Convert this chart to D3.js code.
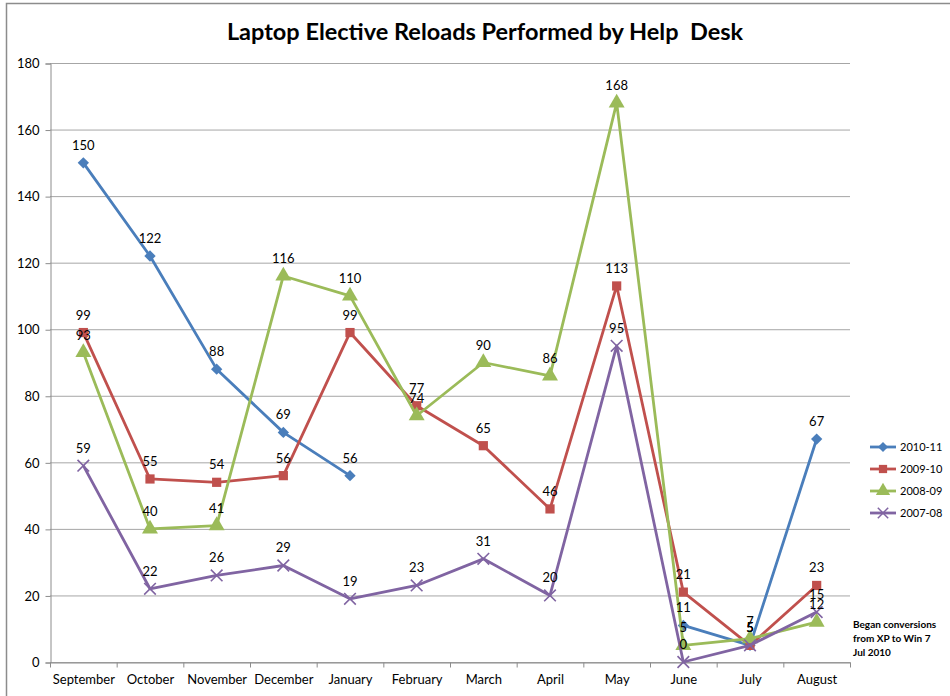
<!DOCTYPE html>
<html>
<head>
<meta charset="utf-8">
<script src="https://cdn.jsdelivr.net/npm/d3@7"></script>
<style>
  body { margin: 0; background: #fff; }
  svg { display: block; font-family: Lato, "Open Sans", sans-serif; }
</style>
</head>
<body>
<svg id="chart" width="950" height="696"></svg>
<script>
const months = ["September", "October", "November", "December", "January", "February",
  "March", "April", "May", "June", "July", "August"];
const seriesNames = ["2010-11", "2009-10", "2008-09", "2007-08"];
const colors = ["#4a7ebb", "#c0504d", "#9bbb59", "#8064a2"];
const symbols = [d3.symbolSquare, d3.symbolSquare, d3.symbolTriangle, d3.symbolTimes];
const values2010 = [150, 122, 88, 69, 56, null, null, null, null, 11, 5, 67];
const values2009 = [99, 55, 54, 56, 99, 77, 65, 46, 113, 21, 5, 23];
const values2008 = [93, 40, 41, 116, 110, 74, 90, 86, 168, 5, 7, 12];
const values2007 = [59, 22, 26, 29, 19, 23, 31, 20, 95, 0, 5, 15];
const yTicks = [0, 20, 40, 60, 80, 100, 120, 140, 160, 180];
const note = ["Began conversions", "from XP to Win 7", "Jul 2010"];

const allValues = [values2010, values2009, values2008, values2007];

const svg = d3.select("#chart");

// Outer chart border
svg.append("rect")
    .attr("x", 6.5).attr("y", 3.5)
    .attr("width", 1000).attr("height", 800)
    .attr("fill", "none")
    .attr("stroke", "#8c8c8c")
    .attr("stroke-width", 1.5);

const plotLeft = 50, plotRight = 850, plotTop = 63, plotBottom = 662;

const x = d3.scaleBand().domain(months).range([plotLeft, plotRight]);
const y = d3.scaleLinear().domain([0, 180]).range([plotBottom, plotTop]);

// Gridlines
svg.append("g")
    .selectAll("line")
    .data(yTicks)
    .join("line")
    .attr("x1", plotLeft).attr("x2", plotRight)
    .attr("y1", d => y(d) + 0.5).attr("y2", d => y(d) + 0.5)
    .attr("stroke", "#a6a6a6")
    .attr("stroke-width", 1);

// Y axis
const yAxis = svg.append("g")
    .attr("transform", `translate(${plotLeft + 0.5},0.5)`)
    .call(d3.axisLeft(y).tickValues(yTicks).tickSize(5).tickPadding(6));
yAxis.select(".domain").attr("stroke", "#8c8c8c");
yAxis.selectAll(".tick line").attr("stroke", "#8c8c8c");
yAxis.selectAll("text").attr("font-size", 13).attr("fill", "#000")
    .attr("font-family", "Lato, sans-serif");

// X axis
const xAxis = svg.append("g")
    .attr("transform", `translate(0.5,${plotBottom + 0.5})`)
    .call(d3.axisBottom(x).tickSize(0).tickPadding(12));
xAxis.select(".domain").attr("stroke", "#8c8c8c");
xAxis.selectAll("text").attr("font-size", 13).attr("fill", "#000")
    .attr("font-family", "Lato, sans-serif");
// tick marks at band boundaries
xAxis.selectAll(".bound")
    .data(months.concat(["end"]))
    .join("line")
    .attr("class", "bound")
    .attr("x1", (d, i) => plotLeft + i * x.bandwidth())
    .attr("x2", (d, i) => plotLeft + i * x.bandwidth())
    .attr("y1", 0).attr("y2", 5)
    .attr("stroke", "#8c8c8c");

// Title
svg.append("text")
    .attr("x", 485).attr("y", 40)
    .attr("text-anchor", "middle")
    .attr("font-size", 23.5)
    .attr("font-weight", "bold")
    .style("white-space", "pre")
    .text("Laptop Elective Reloads Performed by Help  Desk");

const line = d3.line()
    .defined(d => d.v !== null)
    .x(d => x(d.m) + x.bandwidth() / 2)
    .y(d => y(d.v));

const symSizes = [64, 85, 110, 90];
const symRotate = [45, 0, 0, 0];

allValues.forEach((vals, si) => {
    const pts = vals.map((v, i) => ({m: months[i], v}));
    const g = svg.append("g");
    g.append("path")
        .datum(pts)
        .attr("d", line)
        .attr("fill", "none")
        .attr("stroke", colors[si])
        .attr("stroke-width", 2.8)
        .attr("stroke-linejoin", "round");
    g.selectAll("path.mk")
        .data(pts.filter(d => d.v !== null))
        .join("path")
        .attr("class", "mk")
        .attr("transform", d => `translate(${x(d.m) + x.bandwidth() / 2},${y(d.v)}) rotate(${symRotate[si]})`)
        .attr("d", d3.symbol(symbols[si], symSizes[si]))
        .attr("fill", si === 3 ? "none" : colors[si])
        .attr("stroke", colors[si])
        .attr("stroke-width", si === 3 ? 1.6 : 0);
});

// Data labels
allValues.forEach((vals, si) => {
    svg.append("g")
        .selectAll("text")
        .data(vals.map((v, i) => ({m: months[i], v})).filter(d => d.v !== null))
        .join("text")
        .attr("x", d => x(d.m) + x.bandwidth() / 2)
        .attr("y", d => y(d.v) - 13)
        .attr("text-anchor", "middle")
        .attr("font-size", 13)
        .attr("fill", "#000")
        .text(d => d.v);
});

// Legend
const legend = svg.append("g").attr("transform", "translate(870,447)");
seriesNames.forEach((name, si) => {
    const row = legend.append("g").attr("transform", `translate(0,${si * 22})`);
    row.append("line")
        .attr("x1", 0).attr("x2", 26)
        .attr("stroke", colors[si]).attr("stroke-width", 2.8);
    row.append("path")
        .attr("transform", `translate(13,0) rotate(${symRotate[si]})`)
        .attr("d", d3.symbol(symbols[si], symSizes[si] * 0.8))
        .attr("fill", si === 3 ? "none" : colors[si])
        .attr("stroke", colors[si])
        .attr("stroke-width", si === 3 ? 1.5 : 0);
    row.append("text")
        .attr("x", 30).attr("y", 4)
        .attr("font-size", 11)
        .text(name);
});

// Annotation
svg.append("g")
    .selectAll("text")
    .data(note)
    .join("text")
    .attr("x", 853)
    .attr("y", (d, i) => 628 + i * 14)
    .attr("font-size", 10)
    .attr("font-weight", "bold")
    .text(d => d);
</script>
</body>
</html>
